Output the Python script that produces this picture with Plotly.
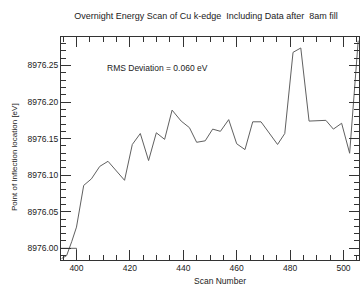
import plotly.graph_objects as go

# Data
scan_number = [394.4, 396.3, 398.2, 400.0, 402.7, 405.6, 408.7, 411.8, 418.0,
               420.9, 423.9, 427.0, 429.9, 433.0, 435.8, 439.2, 442.3, 445.0,
               448.2, 451.0, 453.9, 457.0, 460.0, 463.1, 466.0, 469.1, 475.3,
               478.0, 481.1, 484.0, 487.1, 493.4, 496.2, 499.3, 502.3, 505.5]
inflection_ev = [8975.986, 8975.990, 8976.009, 8976.029, 8976.086, 8976.095,
                 8976.112, 8976.119, 8976.093, 8976.142, 8976.157, 8976.120,
                 8976.158, 8976.149, 8976.189, 8976.174, 8976.165, 8976.145,
                 8976.147, 8976.163, 8976.160, 8976.176, 8976.143, 8976.135,
                 8976.173, 8976.173, 8976.142, 8976.157, 8976.268, 8976.274,
                 8976.174, 8976.175, 8976.163, 8976.171, 8976.130, 8976.284]

# reference bracket drawn at 8976.00 up to scan 400
bracket_x = [394.2, 400.0, 400.0]
bracket_y = [8976.00, 8976.00, 8975.984]

x_range = [394.2, 505.8]
y_range = [8975.984, 8976.289]

FONT = "Liberation Sans, Arial, sans-serif"
AX = "#333333"
TXT = "#222222"

W, H = 361, 286
L, R, T, B = 61, 2, 37, 26

fig = go.Figure()
fig.add_trace(go.Scatter(x=scan_number, y=inflection_ev, mode="lines",
                         line=dict(color="#606060", width=1), showlegend=False))
fig.add_trace(go.Scatter(x=bracket_x, y=bracket_y, mode="lines",
                         line=dict(color="#606060", width=1), showlegend=False))

pw, ph = W - L - R, H - T - B


def px(xp):
    return (xp - L) / pw


def py(yp):
    return (H - B - yp) / ph


fig.add_annotation(x=px(105), y=py(68), xref="paper", yref="paper",
                   text="RMS Deviation = 0.060 eV", showarrow=False,
                   xanchor="left", yanchor="middle",
                   font=dict(family=FONT, size=8.5, color=TXT))
fig.add_annotation(x=px(220), y=py(281), xref="paper", yref="paper",
                   text="Scan Number", showarrow=False,
                   xanchor="center", yanchor="middle",
                   font=dict(family=FONT, size=8.5, color=TXT))
fig.add_annotation(x=px(14), y=py(157), xref="paper", yref="paper",
                   text="Point of Inflection location [eV]", showarrow=False,
                   textangle=-90, xanchor="center", yanchor="middle",
                   font=dict(family=FONT, size=8, color=TXT))

fig.update_layout(
    width=W, height=H,
    margin=dict(l=L, r=R, t=T, b=B, autoexpand=False),
    paper_bgcolor="white", plot_bgcolor="white",
    title=dict(text="Overnight Energy Scan of Cu k-edge  Including Data after  8am fill",
               x=206 / W, xanchor="center", y=1 - 16 / H, yanchor="middle",
               automargin=False,
               font=dict(family=FONT, size=9, color=TXT)),
    font=dict(family=FONT, size=8, color=TXT),
    xaxis=dict(range=x_range, showgrid=False, zeroline=False, automargin=False,
               showline=True, linecolor=AX, linewidth=1, mirror="ticks",
               ticks="inside", ticklen=10, tickcolor=AX, tickwidth=1,
               tick0=400, dtick=20,
               minor=dict(dtick=5, tick0=400, ticks="inside", ticklen=5,
                          tickcolor=AX, showgrid=False),
               tickfont=dict(family=FONT, size=8.5)),
    yaxis=dict(range=y_range, showgrid=False, zeroline=False, automargin=False,
               showline=True, linecolor=AX, linewidth=1, mirror="ticks",
               ticks="inside", ticklen=10, tickcolor=AX, tickwidth=1,
               tick0=8976.0, dtick=0.05, tickformat=".2f",
               minor=dict(dtick=0.01, tick0=8976.0, ticks="inside", ticklen=5,
                          tickcolor=AX, showgrid=False),
               tickfont=dict(family=FONT, size=8.5)),
)

fig.write_html("out.html", config={"displayModeBar": False},
               post_script="document.body.style.margin='0';document.body.style.overflow='hidden';")
